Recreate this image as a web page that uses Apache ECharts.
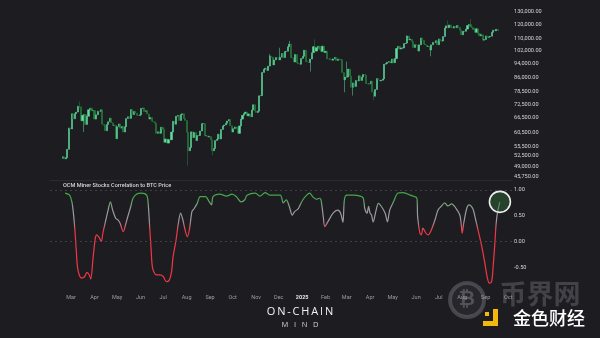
<!DOCTYPE html>
<html>
<head>
<meta charset="utf-8">
<script src="https://cdn.jsdelivr.net/npm/echarts@6/dist/echarts.min.js"></script>
<style>
  html, body { margin: 0; padding: 0; background: #1c1c21; }
  #chart { width: 600px; height: 338px; }
</style>
</head>
<body>
<div id="chart"></div>
<script>
// ---- BTC price: 2-day candles starting 2024-02-19 (close of each period, USD) ----
const candleStart = [2024, 1, 19];
const candleStepDays = 2;
const firstOpen = 51500;
const closes = [
  // 2024 Feb
  52000, 51300, 51700, 54500, 62400,
  // Mar
  62000, 68300, 66100, 68300, 69000, 71600, 71400, 65300, 67600, 67900, 63800, 67200, 70000, 70700, 69600, 69700,
  // Apr
  66000, 67800, 69400, 69200, 70000, 63900, 63500, 61300, 63800, 64900, 66400, 64500, 63400, 63400, 58300,
  // May
  62900, 64000, 62300, 63000, 60800, 62900, 66200, 67000, 66300, 70100, 67900, 69300, 68500, 67600, 67500,
  // Jun
  67800, 70600, 70800, 69300, 69600, 68200, 66000, 66700, 65100, 64900, 64300, 60300, 60900, 60300, 62700,
  // Jul
  62000, 57000, 58200, 56700, 58000, 57900, 60800, 65100, 63900, 67200, 67600, 65400, 67900, 68300, 66200, 65400,
  // Aug
  60700, 54000, 55100, 60900, 58700, 60600, 57600, 59500, 59500, 61200, 64100, 64200, 59400, 59400, 58900,
  // Sep
  59100, 57900, 54000, 54800, 57600, 58100, 60000, 58200, 61800, 63200, 63600, 64300, 65200, 65800, 63300,
  // Oct
  60800, 62100, 62800, 62200, 60300, 63200, 66000, 67600, 68400, 69000, 67400, 68200, 67000, 69900, 72300, 69500,
  // Nov
  68800, 69400, 76500, 76600, 88700, 90500, 91100, 89800, 92300, 98400, 97800, 93000, 96000, 97500, 97300,
  // Dec
  96000, 97700, 99900, 97400, 101200, 101400, 104300, 106100, 97500, 97200, 94700, 99400, 94200, 93700, 93400,
  // 2025 Jan
  96900, 98200, 102100, 95000, 94700, 94500, 96500, 100500, 104400, 101500, 103700, 104700, 102600, 101300, 104700, 100600,
  // Feb
  101400, 96600, 96500, 96500, 95800, 96600, 97500, 95700, 96600, 96100, 96100, 88700, 84700, 86100,
  // Mar
  86100, 90600, 86700, 80700, 83000, 81100, 84300, 84000, 86800, 84200, 86100, 87500, 87200, 82600, 82500,
  // Apr
  82500, 83900, 78400, 76300, 79600, 85300, 84500, 84000, 84400, 85100, 93400, 93900, 94600, 95000, 94200,
  // May
  96500, 94300, 96800, 103200, 104600, 102800, 103500, 103500, 106500, 106800, 111700, 108900, 109400, 107800, 103900, 105700,
  // Jun
  105400, 101500, 105600, 110300, 108600, 106100, 105500, 104500, 104600, 102200, 105600, 107300, 107000, 108400, 105700,
  // Jul
  109600, 108200, 108200, 111300, 117500, 119100, 117700, 119800, 117900, 117400, 118700, 117600, 119400, 117900, 115800,
  // Aug
  112500, 115000, 115000, 116700, 119300, 120200, 118400, 117500, 116300, 114300, 116900, 113500, 111800, 112600, 108800, 109200,
  // Sep
  111700, 110700, 111200, 111500, 114300, 115900, 115400, 116500, 115700
];
// intra-period extremes for the candles with notable wicks
const wickIndex = [11, 14, 83, 99, 137, 144, 150, 164, 167, 187, 188, 192, 206, 228, 244, 255, 270];
const wickLow   = [70500, 60800, 49100, 52500, null, null, null, 89200, null, 78200, null, 76600, 74500, null, 98200, null, null];
const wickHigh  = [73800, null, null, null, 99600, 103700, 108300, null, 109400, null, 95000, null, null, 112000, null, 123200, 124400];

const priceTicks = [130000, 120000, 110000, 102000, 94000, 86000, 78500, 72500, 66500, 60500, 55500, 52500, 49000, 45750];

// ---- Miner stocks vs BTC rolling correlation ----
const corrDates = [
  '2024-02-22','2024-02-28','2024-03-02','2024-03-04','2024-03-06','2024-03-08','2024-03-10','2024-03-15','2024-03-19','2024-03-22',
  '2024-03-25','2024-03-27','2024-03-30','2024-04-02','2024-04-04','2024-04-07','2024-04-10','2024-04-12','2024-04-16','2024-04-19',
  '2024-04-22','2024-04-25','2024-04-29','2024-05-02','2024-05-05','2024-05-09','2024-05-12','2024-05-15','2024-05-19','2024-05-22',
  '2024-05-27','2024-06-02','2024-06-09','2024-06-11','2024-06-13','2024-06-15','2024-06-17','2024-06-22','2024-06-26','2024-07-01',
  '2024-07-05','2024-07-09','2024-07-12','2024-07-14','2024-07-18','2024-07-21','2024-07-24','2024-07-27','2024-07-30','2024-08-02',
  '2024-08-05','2024-08-08','2024-08-11','2024-08-15','2024-08-19','2024-08-26','2024-08-31','2024-09-03','2024-09-05','2024-09-14',
  '2024-09-23','2024-09-30','2024-10-06','2024-10-12','2024-10-17','2024-10-20','2024-10-31','2024-11-06','2024-11-13','2024-11-19',
  '2024-12-03','2024-12-07','2024-12-11','2024-12-15','2024-12-19','2024-12-22','2024-12-27','2024-12-29','2025-01-02','2025-01-07',
  '2025-01-11','2025-01-15','2025-01-20','2025-01-24','2025-01-26','2025-01-29','2025-01-31','2025-02-04','2025-02-11','2025-02-17',
  '2025-02-21','2025-02-24','2025-02-26','2025-03-01','2025-03-10','2025-03-19','2025-03-23','2025-03-25','2025-03-28','2025-03-30',
  '2025-04-01','2025-04-03','2025-04-05','2025-04-09','2025-04-12','2025-04-16','2025-04-21','2025-04-24','2025-04-27','2025-05-02',
  '2025-05-08','2025-05-15','2025-05-24','2025-06-02','2025-06-03','2025-06-06','2025-06-08','2025-06-10','2025-06-14','2025-06-17',
  '2025-06-21','2025-06-26','2025-06-30','2025-07-04','2025-07-09','2025-07-13','2025-07-18','2025-07-24','2025-07-29','2025-07-31',
  '2025-08-01','2025-08-03','2025-08-07','2025-08-10','2025-08-15','2025-08-18','2025-08-22','2025-08-27','2025-08-31','2025-09-03',
  '2025-09-06','2025-09-09','2025-09-11','2025-09-13','2025-09-15','2025-09-17','2025-09-20'
];
const corrValues = [
  0.94, 0.90, 0.77, 0.55, 0.22, -0.22, -0.55, -0.71, -0.68, -0.60,
  -0.65, -0.73, -0.33, 0.06, 0.13, 0.08, 0.00, 0.16, 0.42, 0.61,
  0.77, 0.61, 0.45, 0.42, 0.35, 0.19, 0.32, 0.48, 0.68, 0.84,
  0.92, 0.94, 0.90, 0.74, 0.29, -0.17, -0.52, -0.65, -0.65, -0.68,
  -0.78, -0.75, -0.59, -0.30, 0.03, 0.35, 0.55, 0.42, 0.22, 0.09,
  0.26, 0.58, 0.64, 0.74, 0.87, 0.87, 0.77, 0.71, 0.87, 0.92,
  0.88, 0.92, 0.87, 0.77, 0.81, 0.90, 0.94, 0.88, 0.95, 0.90,
  0.90, 0.75, 0.81, 0.68, 0.51, 0.58, 0.64, 0.70, 0.81, 0.90,
  0.94, 0.87, 0.82, 0.84, 0.81, 0.48, 0.29, 0.38, 0.55, 0.61,
  0.55, 0.37, 0.81, 0.90, 0.90, 0.88, 0.84, 0.64, 0.55, 0.68,
  0.55, 0.51, 0.38, 0.61, 0.74, 0.68, 0.55, 0.38, 0.61, 0.77,
  0.94, 0.95, 0.90, 0.84, 0.48, 0.16, 0.13, 0.26, 0.16, 0.13,
  0.22, 0.42, 0.61, 0.68, 0.75, 0.69, 0.73, 0.64, 0.51, 0.29,
  0.16, 0.35, 0.64, 0.71, 0.64, 0.48, 0.22, -0.10, -0.42, -0.68,
  -0.81, -0.78, -0.49, -0.10, 0.35, 0.58, 0.77
];
const corrTicks = [1, 0.5, 0, -0.5];
const corrRefLines = [1, 0];

// ---- date axis ticks: first day of each month ----
const monthTicks = [
  '2024-03','2024-04','2024-05','2024-06','2024-07','2024-08','2024-09','2024-10','2024-11','2024-12',
  '2025-01','2025-02','2025-03','2025-04','2025-05','2025-06','2025-07','2025-08','2025-09','2025-10'
];
const monthNames = ['Jan','Feb','Mar','Apr','May','Jun','Jul','Aug','Sep','Oct','Nov','Dec'];

// ---- helpers ----
function localDate(str) {
  const p = str.split('-').map(Number);
  return new Date(p[0], p[1] - 1, p[2] || 1).getTime();
}
const xMin = new Date(2024, 1, 2).getTime();
const xMax = new Date(2025, 9, 6).getTime();
const monthTickTimes = monthTicks.map(localDate);

const candleData = closes.map((c, i) => {
  const o = i === 0 ? firstOpen : closes[i - 1];
  let lo = Math.min(o, c), hi = Math.max(o, c);
  const w = wickIndex.indexOf(i);
  if (w >= 0) {
    if (wickLow[w] != null) lo = Math.min(lo, wickLow[w]);
    if (wickHigh[w] != null) hi = Math.max(hi, wickHigh[w]);
  }
  const t = new Date(candleStart[0], candleStart[1], candleStart[2] + i * candleStepDays).getTime();
  return [t, o, c, lo, hi];
});

const corrData = corrDates.map((d, i) => [localDate(d), corrValues[i]]);
const lastCorr = corrData[corrData.length - 1];

function fmtPrice(v) {
  return v.toLocaleString('en-US', { minimumFractionDigits: 2, maximumFractionDigits: 2 });
}

const LABEL_FONT = 'Roboto, "DejaVu Sans", sans-serif';
const UP = '#62dea3';
const DOWN = '#24803d';
const HIDDEN_LINE = { color: 'rgba(0,0,0,0)', width: 0.01 };

const chart = echarts.init(document.getElementById('chart'), null, { renderer: 'canvas' });

chart.setOption({
  backgroundColor: '#1c1c21',
  animation: false,
  grid: [
    { left: 50, right: 88, top: 5, height: 175 },
    { left: 50, right: 88, top: 180, height: 110 }
  ],
  xAxis: [
    {
      type: 'value', gridIndex: 0, min: xMin, max: xMax,
      axisLine: { show: true, onZero: false, lineStyle: { color: '#2a2a31', width: 1 } },
      axisTick: { show: false }, axisLabel: { show: false }, splitLine: { show: false }
    },
    {
      type: 'value', gridIndex: 1, min: xMin, max: xMax,
      axisLine: { show: false }, axisTick: { show: false }, splitLine: { show: false },
      axisLabel: {
        customValues: monthTickTimes,
        margin: 5,
        fontSize: 5.5,
        fontFamily: LABEL_FONT,
        color: '#9c9ca2',
        formatter: function (v) {
          const d = new Date(v);
          return d.getMonth() === 0 ? '{y|' + d.getFullYear() + '}' : monthNames[d.getMonth()];
        },
        rich: { y: { fontSize: 5.5, fontWeight: 'bold', color: '#e4e4e8', fontFamily: LABEL_FONT } }
      }
    }
  ],
  yAxis: [
    {
      type: 'log', logBase: 10, gridIndex: 0, min: 44890, max: 135890, position: 'right',
      axisLine: { show: false }, axisTick: { show: false }, axisLabel: { show: false }, splitLine: { show: false }
    },
    {
      type: 'value', gridIndex: 1, min: -0.942, max: 1.194, position: 'right',
      axisLine: { show: false }, axisTick: { show: false }, axisLabel: { show: false }, splitLine: { show: false }
    }
  ],
  visualMap: {
    type: 'continuous', show: false, seriesIndex: 1, dimension: 1,
    min: 0.2, max: 0.85,
    inRange: { color: ['#f23645', '#9b9b9f', '#9b9b9f', '#43a84a'] }
  },
  series: [
    {
      type: 'candlestick',
      xAxisIndex: 0, yAxisIndex: 0,
      data: candleData,
      barWidth: 1.6,
      itemStyle: { color: UP, color0: DOWN, borderColor: UP, borderColor0: DOWN, borderWidth: 0.5 },
      markLine: {
        silent: true, symbol: ['none', 'none'], animation: false,
        lineStyle: HIDDEN_LINE,
        label: {
          show: true, position: 'end', distance: 2, fontSize: 5.6, fontFamily: LABEL_FONT, color: '#d4d4d8',
          formatter: p => fmtPrice(p.value)
        },
        data: priceTicks.map(v => ({ yAxis: v }))
      }
    },
    {
      type: 'line',
      xAxisIndex: 1, yAxisIndex: 1,
      data: corrData,
      smooth: 0.3,
      showSymbol: false,
      lineStyle: { width: 1.2 },
      markLine: {
        silent: true, symbol: ['none', 'none'], animation: false,
        label: {
          show: true, position: 'end', distance: 2, fontSize: 5.6, fontFamily: LABEL_FONT, color: '#d4d4d8',
          formatter: p => p.value.toFixed(2)
        },
        data: corrTicks.map(v => ({
          yAxis: v,
          lineStyle: corrRefLines.indexOf(v) >= 0
            ? { color: '#4a4a52', type: [2, 3], width: 0.8 }
            : HIDDEN_LINE
        }))
      },
      markPoint: {
        silent: true, animation: false,
        symbol: 'circle', symbolSize: 21,
        label: { show: false },
        itemStyle: { color: 'rgba(52,110,58,0.45)', borderColor: '#ececec', borderWidth: 1.6 },
        data: [{ coord: lastCorr }]
      }
    }
  ],
  graphic: [
    {
      type: 'text', left: 63, top: 182.5, silent: true,
      style: { text: 'OCM Miner Stocks Correlation to BTC Price', fill: '#d6d6da', font: '500 5.6px ' + LABEL_FONT }
    },
    {
      type: 'text', x: 300, y: 312, silent: true,
      style: {
        text: 'O\u2009N\u2009-\u2009C\u2009H\u2009A\u2009I\u2009N', fill: '#f2f2f2',
        font: '500 11px "Open Sans", Lato, sans-serif', align: 'center', verticalAlign: 'middle'
      }
    },
    {
      type: 'text', x: 300, y: 324.5, silent: true,
      style: {
        text: 'M\u2002 I\u2002 N\u2002 D', fill: '#d0d0d0',
        font: '7.5px "Open Sans", Lato, sans-serif', align: 'center', verticalAlign: 'middle'
      }
    },
    // site watermark, lower right
    {
      type: 'circle', silent: true,
      shape: { cx: 467, cy: 300, r: 17 },
      style: { fill: 'rgba(90,90,96,0.18)', stroke: 'rgba(120,120,126,0.45)', lineWidth: 4 }
    },
    {
      type: 'text', x: 467, y: 300, silent: true,
      style: { text: '₿', fill: 'rgba(125,125,130,0.5)', font: 'bold 20px "DejaVu Sans", sans-serif', align: 'center', verticalAlign: 'middle' }
    },
    {
      type: 'text', x: 540, y: 294, silent: true,
      style: { text: '币界网', fill: 'rgba(120,120,126,0.42)', font: 'bold 27px "Noto Sans CJK SC", sans-serif', align: 'center', verticalAlign: 'middle' }
    },
    {
      type: 'polygon', silent: true,
      shape: { points: [[493, 309], [498, 309], [498, 326], [483, 326], [483, 321], [493, 321]] },
      style: { fill: '#f0b90b' }
    },
    {
      type: 'rect', silent: true,
      shape: { x: 485, y: 312, width: 4, height: 4 },
      style: { fill: '#f0b90b' }
    },
    {
      type: 'text', x: 549, y: 318, silent: true,
      style: { text: '金色财经', fill: '#ffffff', font: '500 18px "Noto Sans CJK SC", sans-serif', align: 'center', verticalAlign: 'middle' }
    }
  ]
});
</script>
</body>
</html>
